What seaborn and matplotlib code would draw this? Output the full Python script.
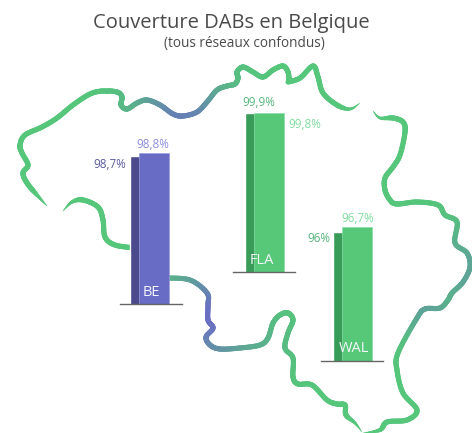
import matplotlib

matplotlib.use("Agg", force=True)
import matplotlib.pyplot as plt
import numpy as np
import pandas as pd
import seaborn as sns
from matplotlib.collections import LineCollection

W, H = 472, 433

TITLE = "Couverture DABs en Belgique"
SUBTITLE = "(tous réseaux confondus)"

REGIONS = ["BE", "FLA", "WAL"]
SERIES = ["arriere", "avant"]
BE_VALUES = [98.45, 98.8]
FLA_VALUES = [99.9, 99.8]
WAL_VALUES = [96.0, 96.7]
BE_LABELS = ["98,7%", "98,8%"]
FLA_LABELS = ["99,9%", "99,8%"]
WAL_LABELS = ["96%", "96,7%"]

# map outline in pixels
NW_X = [47, 37, 27, 23, 28, 22, 20, 25, 42, 57, 73, 90, 103, 117, 122, 121, 127, 137, 147, 160, 173, 183, 197, 207, 217, 227, 235, 238, 237, 243, 253, 263, 273, 283, 288, 289]
NW_Y = [206, 195, 183, 173, 165, 153, 145, 135, 127, 118, 105, 94, 91, 92, 97, 105, 109, 103, 100, 105, 114, 116, 112, 102, 90, 86, 84, 78, 72, 67, 72, 77, 70, 66, 72, 80]
NE_X = [288, 300, 313, 318, 323, 337, 350, 360]
NE_Y = [82, 78, 66, 77, 93, 105, 109, 103]
EAST_X = [373, 380, 393, 403, 405, 400, 393, 385, 385, 390, 397, 417, 438, 445, 457, 455, 467, 470, 463, 452, 448, 440, 425, 417, 398, 397, 403, 417, 407, 387, 380, 363]
EAST_Y = [111, 118, 118, 122, 132, 155, 167, 178, 190, 200, 204, 202, 205, 215, 222, 243, 253, 267, 282, 293, 300, 308, 309, 318, 353, 370, 393, 410, 420, 422, 430, 433]
WEST_X = [63, 72, 83, 98, 103, 105, 115, 135]
WEST_Y = [211, 202, 200, 207, 220, 237, 245, 248]
SOUTH_X = [165, 190, 207, 208, 208, 213, 206, 210, 220, 240, 260, 268, 273, 280, 288, 293, 288, 285, 293, 293, 298, 312, 327, 337, 345, 346, 355, 362]
SOUTH_Y = [278, 280, 293, 305, 320, 328, 337, 345, 349, 348, 345, 338, 323, 315, 313, 320, 333, 348, 358, 377, 384, 385, 400, 404, 405, 415, 423, 432]

GREEN = np.array([0x55, 0xc6, 0x7a]) / 255
BLUE = np.array([0x6a, 0x6f, 0xc4]) / 255
# where the outline drifts to blue: x, y, spread, strength
BLUE_SPOTS = [(183, 116, 33, 0.8), (209, 318, 32, 1.0), (240, 348, 30, 0.35), (462, 272, 30, 0.4), (425, 312, 22, 0.4)]

GROUP_STYLE = {
    "BE": {"left": 120, "back_x": 144.75, "base": 304, "back": "#4a4a8c", "front": "#686cc4", "edge": "#9a9de0", "tx": "#5a5a9c", "ftx": "#8a8ede", "name_x": 151, "name_y": 293},
    "FLA": {"left": 233, "back_x": 259.75, "base": 272, "back": "#389c58", "front": "#56c878", "edge": "#8ddcaa", "tx": "#56b57c", "ftx": "#7fdca0", "name_x": 262, "name_y": 261},
    "WAL": {"left": 321, "back_x": 347.75, "base": 361, "back": "#389c58", "front": "#56c878", "edge": "#8ddcaa", "tx": "#56b57c", "ftx": "#7fdca0", "name_x": 354, "name_y": 348},
}
LABEL_POS = {
    "BE": [(126, 164, "right"), (153, 145, "center")],
    "FLA": [(259, 102, "center"), (288, 125, "left")],
    "WAL": [(330, 239, "right"), (358, 219, "center")],
}

AXIS_W = 62
BAR_STEP = 9.0
BAR_W = 29.5
Y_MIN = 79.4
PX_PER_UNIT = 7.77


def smooth(xs, ys, n=14):
    pts = np.column_stack([xs, ys]).astype(float)
    pts = np.vstack([pts[0], pts, pts[-1]])
    out = []
    for i in range(1, len(pts) - 2):
        p0, p1, p2, p3 = pts[i - 1], pts[i], pts[i + 1], pts[i + 2]
        for t in np.linspace(0, 1, n, endpoint=False):
            out.append(0.5 * (2 * p1 + (p2 - p0) * t + (2 * p0 - 5 * p1 + 4 * p2 - p3) * t**2 + (3 * p1 - p0 - 3 * p2 + p3) * t**3))
    out.append(pts[-2])
    return np.array(out)


def draw_stroke(ax, xs, ys, taper_start=True, taper_end=True):
    pts = smooth(xs, ys)
    seg = np.stack([pts[:-1], pts[1:]], axis=1)
    mid = seg.mean(axis=1)
    lengths = np.hypot(*(pts[1:] - pts[:-1]).T)
    dist = np.cumsum(lengths)
    widths = np.full(len(mid), 3.7)
    if taper_start:
        widths = np.minimum(widths, 0.3 + dist / 22 * 3.4)
    if taper_end:
        widths = np.minimum(widths, 0.3 + (dist[-1] - dist) / 22 * 3.4)
    blend = np.zeros(len(mid))
    for sx, sy, spread, strength in BLUE_SPOTS:
        d2 = (mid[:, 0] - sx) ** 2 + (mid[:, 1] - sy) ** 2
        blend = np.maximum(blend, strength * np.exp(-d2 / (2 * spread**2)))
    colors = GREEN + blend[:, None] * (BLUE - GREEN)
    ax.add_collection(LineCollection(seg, colors=colors, linewidths=widths, capstyle="round"))


def draw_group(fig, region, values, labels):
    st = GROUP_STYLE[region]
    top = st["base"] - 172
    ax = fig.add_axes([st["left"] / W, 1 - st["base"] / H, AXIS_W / W, (st["base"] - top) / H])
    df = pd.DataFrame({"serie": SERIES, "valeur": values})
    sns.barplot(
        data=df, x="serie", y="valeur", hue="serie", order=SERIES, hue_order=SERIES,
        palette=[st["back"], st["front"]], dodge=False, legend=False, saturation=1,
        width=BAR_W / BAR_STEP, ax=ax,
    )
    ax.patches[1].set_edgecolor(st["edge"])
    ax.patches[1].set_linewidth(0.5)
    left = (st["left"] - st["back_x"]) / BAR_STEP
    ax.set_xlim(left, left + AXIS_W / BAR_STEP)
    ax.set_ylim(Y_MIN, Y_MIN + 172 / PX_PER_UNIT)
    ax.patch.set_visible(False)
    ax.set_xticks([])
    ax.set_yticks([])
    ax.set_xlabel("")
    ax.set_ylabel("")
    sns.despine(ax=ax, left=True)
    ax.spines["bottom"].set_color("#666666")
    ax.spines["bottom"].set_linewidth(1.0)

    colors = [st["tx"], st["ftx"]]
    for (x, y, ha), label, color in zip(LABEL_POS[region], labels, colors):
        fig.text(x / W, 1 - y / H, label, ha=ha, va="center", fontsize=8.4, color=color)
    fig.text(st["name_x"] / W, 1 - st["name_y"] / H, region, ha="center", va="center", fontsize=10.5, color="#f4f4fb")


def main():
    sns.set_theme(style="white")
    plt.rcParams["font.family"] = ["Open Sans", "DejaVu Sans"]
    fig = plt.figure(figsize=(W / 100, H / 100), dpi=100, facecolor="white")

    bg = fig.add_axes([0, 0, 1, 1])
    bg.set_xlim(0, W)
    bg.set_ylim(H, 0)
    bg.axis("off")
    draw_stroke(bg, NW_X, NW_Y, taper_end=False)
    draw_stroke(bg, NE_X, NE_Y, taper_start=False)
    draw_stroke(bg, EAST_X, EAST_Y)
    draw_stroke(bg, WEST_X, WEST_Y, taper_end=False)
    draw_stroke(bg, SOUTH_X, SOUTH_Y, taper_start=False)

    for region, values, labels in zip(REGIONS, [BE_VALUES, FLA_VALUES, WAL_VALUES], [BE_LABELS, FLA_LABELS, WAL_LABELS]):
        draw_group(fig, region, values, labels)

    fig.text(231 / W, 1 - 23 / H, TITLE, ha="center", va="center", fontsize=14.5, color="#4a4a4a")
    fig.text(244 / W, 1 - 44 / H, SUBTITLE, ha="center", va="center", fontsize=9.8, color="#4a4a4a")
    fig.savefig("out.png", dpi=100)


if __name__ == "__main__":
    main()
